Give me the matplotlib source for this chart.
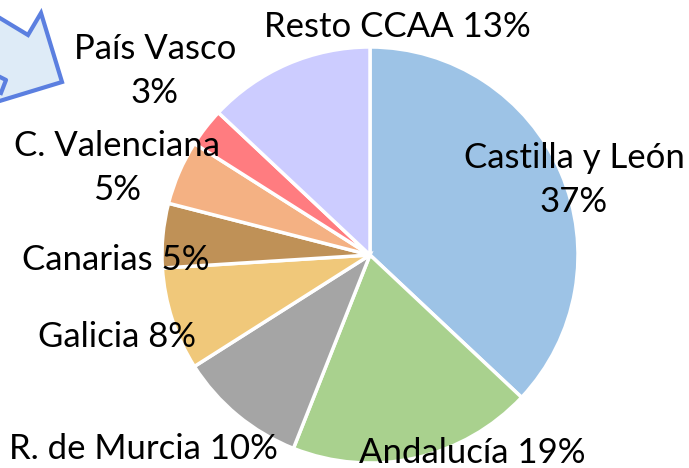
import matplotlib
matplotlib.use("Agg")
import matplotlib.pyplot as plt
from matplotlib.patches import Polygon

# data, clockwise from 12 o'clock
regions = ["Castilla y León", "Andalucía", "R. de Murcia", "Galicia",
           "Canarias", "C. Valenciana", "País Vasco", "Resto CCAA"]
shares = [37, 19, 10, 8, 5, 5, 3, 13]
colors = ["#9DC3E6", "#A9D18E", "#A5A5A5", "#F0C87A",
          "#BF9157", "#F4B183", "#FF7C80", "#CCCCFF"]
two_line = [True, False, False, False, False, True, True, False]

# label anchors in pixel coords (x, y from top)
label_pos = [(574, 180), (472, 453), (143, 449), (117, 337),
             (116, 260), (117, 168), (155, 71), (397, 27)]

W, H = 689, 468
plt.rcParams["font.family"] = ["Lato", "DejaVu Sans"]

fig = plt.figure(figsize=(W / 100, H / 100), dpi=100)
ax = fig.add_axes([0, 0, 1, 1])

ax.pie(shares, colors=colors, startangle=90, counterclock=False,
       center=(370, H - 255), radius=208, frame=True,
       wedgeprops=dict(edgecolor="white", linewidth=2.5))
ax.set_xlim(0, W)
ax.set_ylim(0, H)
ax.set_aspect("equal")
ax.axis("off")

for name, pct, split, (x, y) in zip(regions, shares, two_line, label_pos):
    sep = "\n" if split else " "
    ax.text(x, H - y, f"{name}{sep}{pct}%", ha="center", va="center",
            fontsize=25, color="#000000", linespacing=1.45)

# block arrow poking in from the top-left corner
arrow_pts = [(-30, 0), (28, 35), (41, 13), (62, 82), (-30, 110)]
ax.add_patch(Polygon([(x, H - y) for x, y in arrow_pts], closed=True,
                     facecolor="#DEEBF7", edgecolor="#5B7FE0", linewidth=3,
                     clip_on=True))
ax.plot([0, 6, 1], [H - 77, H - 80, H - 93], color="#5B7FE0", linewidth=3)

fig.savefig("out.png", dpi=100)
